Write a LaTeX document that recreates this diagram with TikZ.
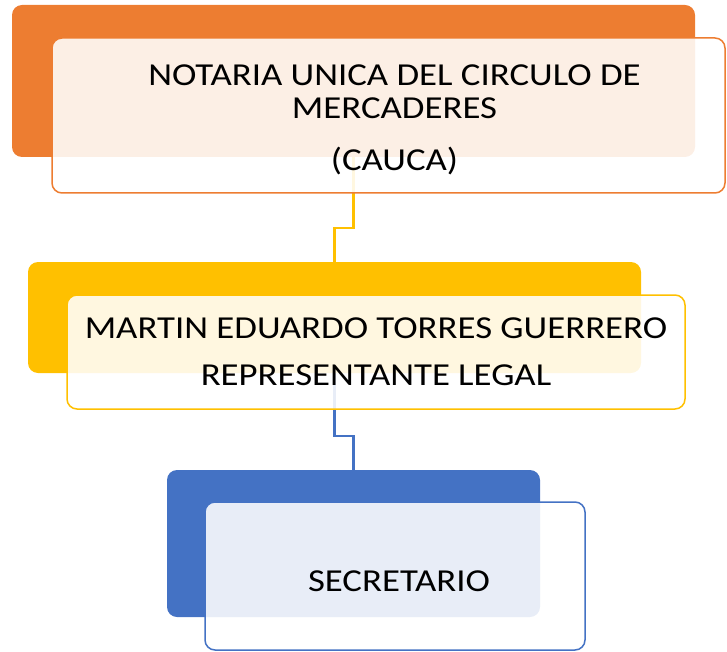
\documentclass[tikz,border=0pt]{standalone}
\usepackage{fontspec}
\setmainfont{Carlito}[FakeStretch=1.15]
\usepackage{tikz}
\usetikzlibrary{positioning}

\definecolor{ofcorange}{HTML}{ED7D31}
\definecolor{ofcyellow}{HTML}{FFC000}
\definecolor{ofcblue}{HTML}{4472C4}

\begin{document}
\begin{tikzpicture}[x=1pt, y=-1pt,
          backbox/.style = {shape=rectangle, rounded corners=10pt,
            draw=none, inner sep=0pt},
          frontbox/.style = {shape=rectangle, rounded corners=10pt,
            line width=1.5pt, fill=white, fill opacity=0.88,
            text opacity=1, align=center, inner sep=0pt,
            font=\fontsize{32}{33}\selectfont},
          link/.style = {line width=2.5pt}]
    \useasboundingbox (0,0) rectangle (727,652);
    % back boxes
    \node[backbox, fill=ofcorange, minimum width=683pt, minimum height=152pt]
        (notaria) at (353.5,81) {};
    \node[backbox, fill=ofcyellow, minimum width=613pt, minimum height=111pt]
        (repres) at (334.5,317.5) {};
    \node[backbox, fill=ofcblue, minimum width=373pt, minimum height=147pt]
        (secret) at (353.5,543.5) {};
    % connectors
    \draw[link, ofcyellow] (notaria.south) -- ++(0,71) -| (repres.north);
    \draw[link, ofcblue] (repres.south) -- ++(0,63) -| (secret.north);
    % front boxes
    \node[frontbox, draw=ofcorange, minimum width=673pt, minimum height=155pt]
        (notariatxt) at (388.5,115.5)
        {\rule{0pt}{30pt}\hspace{12pt}NOTARIA UNICA DEL CIRCULO DE\\\hspace{12pt}MERCADERES\\[19pt]\hspace{12pt}(CAUCA)};
    \node[frontbox, draw=ofcyellow, minimum width=618pt, minimum height=114pt]
        (represtxt) at (376,352)
        {MARTIN EDUARDO TORRES GUERRERO\\[14pt]REPRESENTANTE LEGAL};
    \node[frontbox, draw=ofcblue, minimum width=380pt, minimum height=148pt]
        (secrettxt) at (395,576) {\rule{0pt}{32pt}\hspace{8pt}SECRETARIO};
\end{tikzpicture}
\end{document}
